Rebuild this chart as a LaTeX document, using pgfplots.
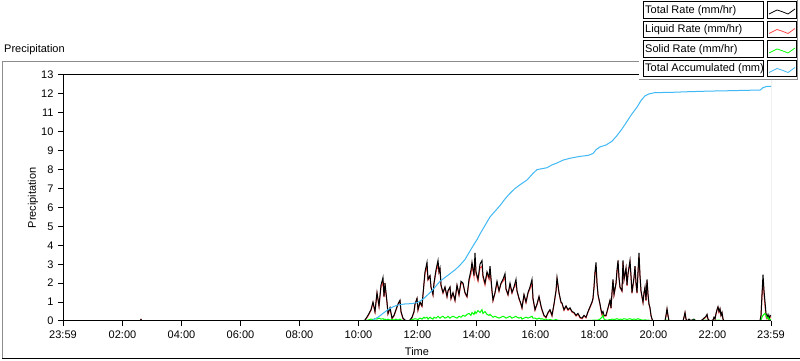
\documentclass[border=0pt]{standalone}
\usepackage{pgfplots}
\pgfplotsset{compat=1.18}
\usepackage{pgfplotstable}
\usepackage{fontspec}
\setmainfont{Liberation Sans}
\definecolor{lvgray}{RGB}{140,140,140}
\definecolor{lvred}{RGB}{255,70,70}
\definecolor{lvgreen}{RGB}{0,255,0}
\definecolor{lvblue}{RGB}{64,185,245}

\pgfplotstableread{
h tot liq sol
0 0 0 0
2.610 0 0 0
2.644 0.08 0.08 0
2.678 0 0 0
10.136 0 0 0
10.237 0.05 0.03 0.02
10.339 0.3 0.26 0.05
10.441 0.6 0.56 0.1
10.508 1.0 0.96 0.08
10.576 0.5 0.46 0.12
10.644 1.5 1.46 0.1
10.712 0.8 0.76 0.15
10.780 1.9 1.8 0.1
10.847 2.3 2.05 0.12
10.881 1.3 1.26 0.08
10.915 2.0 1.85 0.1
10.983 1.0 0.96 0.05
11.017 0.4 0.36 0.1
11.085 0.7 0.66 0.05
11.153 0.15 0.11 0.08
11.220 0.3 0.26 0.05
11.288 0.6 0.56 0.1
11.356 0.9 0.86 0.05
11.424 1.1 1.06 0.1
11.458 0.5 0.46 0.05
11.525 0.15 0.12 0.03
11.593 0.05 0.03 0.02
11.695 0 0 0
11.763 0.05 0.03 0.02
11.831 0.2 0.16 0.08
11.898 0.5 0.46 0.1
11.932 0.9 0.86 0.12
12.000 1.2 1.16 0.1
12.034 0.6 0.56 0.08
12.102 1.0 0.96 0.15
12.169 0.8 0.76 0.1
12.237 2.0 1.96 0.2
12.271 2.6 2.5 0.15
12.339 3.1 2.85 0.2
12.373 2.2 2.16 0.1
12.441 2.4 2.36 0.2
12.475 1.8 1.76 0.15
12.542 1.4 1.36 0.1
12.576 2.0 1.96 0.2
12.644 2.7 2.6 0.15
12.712 3.2 2.95 0.25
12.746 2.6 2.56 0.2
12.780 2.8 2.7 0.15
12.814 1.9 1.86 0.2
12.881 1.5 1.46 0.25
12.949 1.8 1.76 0.15
13.017 1.3 1.26 0.2
13.051 1.6 1.56 0.25
13.119 1.8 1.76 0.15
13.153 1.2 1.16 0.2
13.220 1.5 1.46 0.25
13.288 1.1 1.06 0.2
13.356 1.9 1.86 0.15
13.424 1.4 1.36 0.25
13.492 2.1 2.0 0.2
13.559 2.0 1.96 0.3
13.627 1.5 1.46 0.25
13.695 1.3 1.26 0.35
13.763 2.2 2.1 0.4
13.831 2.7 2.5 0.3
13.864 3.1 2.95 0.45
13.932 2.4 2.36 0.35
13.966 3.6 3.3 0.5
14.000 2.6 2.5 0.4
14.068 2.2 2.1 0.55
14.136 3.0 2.8 0.45
14.203 3.2 2.9 0.6
14.237 2.4 2.3 0.4
14.305 2.0 1.9 0.5
14.373 2.6 2.5 0.35
14.441 2.3 2.2 0.3
14.475 2.9 2.65 0.35
14.542 1.6 1.56 0.25
14.576 1.1 1.06 0.2
14.644 1.5 1.46 0.25
14.712 2.1 2.0 0.2
14.780 1.6 1.56 0.15
14.847 2.0 1.96 0.2
14.915 2.2 2.1 0.25
14.983 2.5 2.3 0.2
15.017 1.7 1.66 0.15
15.085 1.4 1.36 0.2
15.153 2.0 1.9 0.25
15.220 1.5 1.46 0.15
15.288 1.8 1.76 0.2
15.356 2.2 1.95 0.25
15.390 1.6 1.56 0.2
15.458 1.2 1.16 0.15
15.525 0.9 0.86 0.2
15.559 0.7 0.66 0.1
15.627 1.4 1.36 0.15
15.695 1.0 0.96 0.2
15.763 1.5 1.46 0.15
15.831 1.8 1.7 0.2
15.898 2.2 2.0 0.25
15.932 1.2 1.16 0.15
16.000 0.6 0.56 0.15
16.068 0.9 0.86 0.1
16.136 1.3 1.26 0.15
16.203 0.8 0.76 0.1
16.237 0.6 0.56 0.12
16.305 0.3 0.26 0.08
16.373 0.2 0.16 0.1
16.441 0.45 0.41 0.05
16.508 0.6 0.56 0.08
16.576 0.3 0.26 0.05
16.644 0.9 0.86 0.05
16.712 1.6 1.56 0.08
16.746 2.3 2.2 0.05
16.814 1.5 1.46 0.03
16.881 1.0 0.96 0.03
16.915 0.95 0.91 0.02
16.983 0.6 0.56 0.02
17.051 0.8 0.76 0.02
17.119 0.6 0.56 0.02
17.186 0.7 0.66 0.02
17.254 0.5 0.46 0.02
17.322 0.45 0.41 0.02
17.390 0.3 0.26 0.02
17.458 0.4 0.36 0.02
17.525 0.2 0.16 0.02
17.593 0.15 0.11 0.02
17.661 0.3 0.26 0.02
17.729 0.2 0.16 0.02
17.797 0.5 0.46 0.03
17.864 0.75 0.7 0.03
17.932 1.0 0.96 0.03
17.966 1.2 1.16 0.05
18.000 1.8 1.76 0.05
18.034 2.6 2.5 0.05
18.068 3.1 2.9 0.05
18.102 2.0 1.96 0.05
18.136 1.4 1.36 0.05
18.203 0.9 0.86 0.1
18.237 0.6 0.56 0.15
18.271 0.4 0.3 0.2
18.305 0.5 0.35 0.3
18.339 0.3 0.26 0.1
18.407 0.3 0.26 0.05
18.475 0.7 0.66 0.05
18.542 1.1 1.06 0.08
18.576 0.7 0.66 0.05
18.610 1.5 1.46 0.1
18.644 2.2 2.1 0.1
18.678 1.4 1.36 0.08
18.746 2.0 1.96 0.1
18.780 2.7 2.6 0.12
18.814 3.2 3.0 0.1
18.847 2.3 2.26 0.08
18.881 1.8 1.76 0.1
18.949 1.6 1.56 0.08
18.983 3.2 3.1 0.1
19.017 2.2 2.16 0.12
19.085 2.8 2.76 0.1
19.119 1.9 1.86 0.08
19.153 2.5 2.46 0.1
19.220 3.2 3.1 0.12
19.254 2.4 2.36 0.1
19.288 1.5 1.46 0.08
19.356 2.3 2.26 0.1
19.390 2.9 2.86 0.1
19.424 2.0 1.96 0.08
19.458 1.5 1.46 0.1
19.492 2.6 2.56 0.12
19.525 3.6 3.4 0.1
19.559 2.4 2.36 0.08
19.593 1.6 1.56 0.06
19.661 1.0 0.96 0.05
19.695 1.5 1.46 0.05
19.729 1.8 1.7 0.06
19.763 1.1 1.06 0.05
19.797 2.2 2.1 0.05
19.831 1.4 1.36 0.04
19.864 0.9 0.86 0.04
19.898 0.7 0.66 0.03
19.932 0.3 0.28 0.02
19.966 0.1 0.1 0
20.000 0 0 0
20.407 0 0 0
20.441 0.3 0.26 0.05
20.475 0.65 0.6 0.05
20.508 0.3 0.28 0.02
20.542 0 0 0
21.017 0 0 0
21.051 0.2 0.2 0
21.085 0.45 0.43 0.02
21.119 0.1 0.1 0
21.153 0 0 0
21.220 0.1 0.08 0.02
21.254 0.05 0.02 0.03
21.322 0.05 0.03 0.02
21.390 0.1 0.05 0.05
21.458 0 0 0
21.593 0 0 0
21.661 0.05 0.05 0
21.729 0.15 0.12 0.03
21.797 0.25 0.2 0.05
21.831 0.35 0.32 0.03
21.864 0.1 0.1 0
21.932 0 0 0
22.034 0.05 0.05 0
22.068 0.2 0.18 0.02
22.102 0.1 0.1 0
22.136 0.4 0.37 0.03
22.169 0.6 0.55 0.05
22.203 0.75 0.72 0.03
22.237 0.5 0.45 0.05
22.271 0.65 0.62 0.03
22.305 0.3 0.28 0.02
22.339 0.45 0.42 0.03
22.373 0.1 0.1 0
22.407 0 0 0
23.627 0 0 0
23.661 0.3 0.25 0.05
23.695 1.4 1.3 0.2
23.729 2.45 2.2 0.3
23.763 1.6 1.4 0.35
23.797 1.0 0.8 0.4
23.831 0.4 0.2 0.3
23.864 0.2 0.1 0.15
23.898 0.35 0.2 0.2
23.932 0.1 0.05 0.05
23.966 0.3 0.2 0.1
24.000 0.25 0.2 0.05
}\ratetable

\pgfplotstableread{
h acc
0 0
10.407 0
10.508 0.05
10.678 0.2
10.847 0.4
11.017 0.6
11.186 0.75
11.356 0.85
11.593 0.9
11.831 0.92
12.000 0.97
12.102 1.05
12.237 1.2
12.373 1.4
12.508 1.6
12.644 1.85
12.780 2.1
12.949 2.3
13.119 2.5
13.288 2.7
13.458 2.95
13.627 3.25
13.797 3.7
13.932 4.05
14.034 4.3
14.136 4.6
14.305 5.05
14.475 5.5
14.644 5.8
14.814 6.1
14.983 6.45
15.153 6.75
15.322 7.0
15.492 7.2
15.729 7.45
15.932 7.8
16.068 8.0
16.237 8.05
16.407 8.1
16.576 8.25
16.746 8.35
16.949 8.5
17.186 8.6
17.525 8.7
17.797 8.75
17.966 8.85
18.068 9.05
18.203 9.2
18.407 9.3
18.610 9.5
18.780 9.8
18.949 10.15
19.119 10.55
19.288 10.95
19.458 11.3
19.593 11.65
19.729 11.9
19.864 12.0
20.068 12.07
20.576 12.08
21.254 12.12
21.932 12.15
22.610 12.17
23.458 12.2
23.627 12.2
23.729 12.33
23.864 12.4
24.000 12.4
}\acctable

\begin{document}
\begin{tikzpicture}[x=1pt,y=1pt,font=\fontsize{11}{13}\selectfont]
\useasboundingbox (0,0) rectangle (800,361);
\fill[white] (0,0) rectangle (800,361);
% outer panel frame
\draw[lvgray,line width=1pt] (2,2) -- (2,299) -- (700,299);
\draw[black,line width=1pt] (2,2) -- (800,2);
\node[anchor=west,inner sep=0pt] at (4,311) {Precipitation};

\begin{axis}[
  scale only axis, width=708pt, height=246pt,
  at={(63pt,40pt)}, anchor=south west,
  xmin=0, xmax=24, ymin=0, ymax=13,
  axis line style={draw=none},
  xtick={0,2.0167,4.0167,6.0167,8.0167,10.0167,12.0167,14.0167,16.0167,18.0167,20.0167,22.0167,24},
  xticklabels={23:59,02:00,04:00,06:00,08:00,10:00,12:00,14:00,16:00,18:00,20:00,22:00,23:59},
  minor x tick num=8,
  ytick={0,1,...,13},
  xtick pos=bottom, ytick pos=left,
  tick align=outside,
  major tick length=5pt, minor tick length=3pt,
  every tick/.style={black, line width=1pt},
  /pgf/number format/assume math mode=true,
  tick label style={font=\fontsize{11}{13}\selectfont},
  xticklabel style={yshift=-1pt},
  yticklabel style={xshift=-1pt},
  xlabel={Time}, ylabel={Precipitation},
  xlabel style={at={(axis description cs:0.5,-0.126)}, anchor=center, font=\fontsize{11}{13}\selectfont},
  ylabel style={at={(axis description cs:-0.0424,0.5)}, anchor=center, font=\fontsize{11}{13}\selectfont},
  clip=true,
]
\addplot[lvred, line width=1pt] table[x=h, y=liq] {\ratetable};
\addplot[black, line width=1pt] table[x=h, y=tot] {\ratetable};
\addplot[lvgreen, line width=1pt] table[x=h, y=sol] {\ratetable};
\addplot[lvblue, line width=1pt] table[x=h, y=acc] {\acctable};
\draw[black, line width=1pt] (rel axis cs:0,0) -- (rel axis cs:0,1) -- (rel axis cs:1,1);
\draw[black, line width=1pt] (rel axis cs:0,0) -- (rel axis cs:1,0);
\draw[lvgray, line width=1pt] (rel axis cs:1,0) -- (rel axis cs:1,1);
\end{axis}

% legend panel
\fill[white] (639,281.5) rectangle (800,361);
\draw[lvgray, line width=1pt] (639,281.5) -- (797.5,281.5) -- (797.5,361);
\foreach \t/\lab/\col in {
  2/{Total Rate (mm/hr)}/black,
  21.5/{Liquid Rate (mm/hr)}/lvred,
  41/{Solid Rate (mm/hr)}/lvgreen,
  60.5/{Total Accumulated (mm)}/lvblue} {
  \pgfmathsetmacro{\T}{361-\t}
  \draw[black, line width=1pt] (643,\T) rectangle (763,\T-16.5);
  \draw[black, line width=1pt] (767,\T) rectangle (796,\T-16.5);
  \node[anchor=west, inner sep=0pt] at (645,\T-8.5) {\lab};
  \draw[\col, line width=0.8pt] (769,\T-12) -- (777,\T-8) -- (783,\T-10) -- (788,\T-12) -- (795,\T-7);
}
\end{tikzpicture}
\end{document}
